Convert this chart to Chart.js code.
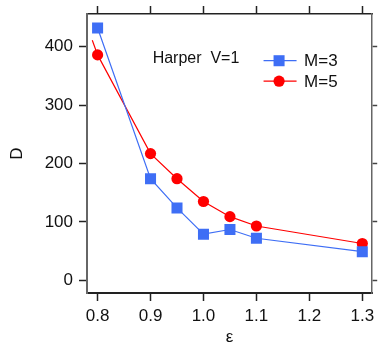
<!DOCTYPE html>
<html>
<head>
<meta charset="utf-8">
<script src="https://cdn.jsdelivr.net/npm/chart.js@4/dist/chart.umd.min.js"></script>
<style>
  html, body { margin: 0; padding: 0; background: #fff; }
  #wrap { width: 380px; height: 346px; }
</style>
</head>
<body>
<div id="wrap"><canvas id="chart" width="380" height="346"></canvas></div>
<script>
// values
const epsValues = [0.8, 0.9, 0.95, 1.0, 1.05, 1.1, 1.3];
const m3Values = [432, 174, 124, 79, 87, 72, 49];
// M=5 line starts a bit above its first marker
const m5Eps = [0.79, 0.8, 0.9, 0.95, 1.0, 1.05, 1.1, 1.3];
const m5Values = [411, 386, 217, 174, 135, 109, 93, 63];
const xTicks = [0.8, 0.9, 1.0, 1.1, 1.2, 1.3];
const yTicks = [0, 100, 200, 300, 400];
const seriesNames = ['M=3', 'M=5'];
const noteText = 'Harper  V=1';

const BLUE = '#3e6ef5';
const RED = '#ff0000';
const FONT = '"Liberation Sans", Arial, sans-serif';

const X_MIN = 0.78, X_MAX = 1.3187;
const Y_MIN = -21.7, Y_MAX = 456;

function toPoints(xs, ys) {
    return xs.map((x, i) => ({ x: x, y: ys[i] }));
}

function setTicks(list) {
    return scale => { scale.ticks = list.map(v => ({ value: v })); };
}

// fixed box sizes, no extra room for overflowing labels
function fixSize(w, h) {
    return s => {
        if (w !== null) s.width = w;
        if (h !== null) s.height = h;
        s.paddingLeft = 0; s.paddingRight = 0;
        s.paddingTop = 0; s.paddingBottom = 0;
    };
}

// text note + legend drawn inside the plot
const overlay = {
    id: 'overlay',
    afterDraw(chart) {
        const ctx = chart.ctx;
        const xs = chart.scales.x, ys = chart.scales.y;
        ctx.save();
        ctx.fillStyle = '#111';
        ctx.font = '16px ' + FONT;
        ctx.textBaseline = 'alphabetic';
        ctx.fillText(noteText, xs.getPixelForValue(0.904), ys.getPixelForValue(372.5));

        const lx = xs.getPixelForValue(1.1135);
        const rows = [
            { label: seriesNames[0], color: BLUE, style: 'rect', r: 7.8, y: ys.getPixelForValue(376) },
            { label: seriesNames[1], color: RED, style: 'circle', r: 5.6, y: ys.getPixelForValue(341) },
        ];
        ctx.font = '17px ' + FONT;
        ctx.textBaseline = 'middle';
        rows.forEach(row => {
            ctx.strokeStyle = row.color;
            ctx.lineWidth = 1.2;
            ctx.beginPath();
            ctx.moveTo(lx, row.y);
            ctx.lineTo(lx + 33, row.y);
            ctx.stroke();
            ctx.fillStyle = row.color;
            Chart.helpers.drawPoint(ctx, { pointStyle: row.style, radius: row.r, rotation: 0, borderWidth: 0 }, lx + 15.5, row.y);
            ctx.fillStyle = '#111';
            ctx.fillText(row.label, lx + 40.5, row.y + 1);
        });
        ctx.restore();
    }
};

new Chart(document.getElementById('chart'), {
    type: 'line',
    data: {
        datasets: [{
            label: seriesNames[0],
            data: toPoints(epsValues, m3Values),
            borderColor: BLUE,
            backgroundColor: BLUE,
            borderWidth: 1.2,
            pointStyle: 'rect',
            pointRadius: 7.8,
            pointBorderWidth: 0,
            pointHoverRadius: 7.8,
        }, {
            label: seriesNames[1],
            data: toPoints(m5Eps, m5Values),
            borderColor: RED,
            backgroundColor: RED,
            borderWidth: 1.2,
            pointStyle: 'circle',
            pointRadius: ctx => ctx.dataIndex === 0 ? 0 : 5.6,
            pointBorderWidth: 0,
            pointHoverRadius: 5.6,
        }],
    },
    options: {
        responsive: false,
        animation: false,
        events: [],
        layout: { padding: 0 },
        plugins: { legend: { display: false }, tooltip: { enabled: false } },
        scales: {
            x: {
                type: 'linear', position: 'bottom', min: X_MIN, max: X_MAX,
                afterBuildTicks: setTicks(xTicks),
                afterFit: fixSize(null, 53),
                ticks: { color: '#111', font: { family: FONT, size: 17 }, padding: 5, maxRotation: 0,
                         callback: v => v.toFixed(1) },
                grid: { drawOnChartArea: false, tickLength: 8, tickWidth: 1.5, tickColor: '#222' },
                border: { color: '#222', width: 2 },
                title: { display: true, text: 'ε', color: '#111',
                         font: { family: FONT, size: 17, lineHeight: 1 }, padding: 0 },
            },
            x2: {
                type: 'linear', position: 'top', min: X_MIN, max: X_MAX,
                afterBuildTicks: setTicks(xTicks),
                afterFit: fixSize(null, 14),
                ticks: { display: false },
                grid: { drawOnChartArea: false, tickLength: 8, tickWidth: 1.5, tickColor: '#222' },
                border: { color: '#222', width: 1.5 },
            },
            y: {
                type: 'linear', position: 'left', min: Y_MIN, max: Y_MAX,
                afterBuildTicks: setTicks(yTicks),
                afterFit: fixSize(87, null),
                ticks: { color: '#111', font: { family: FONT, size: 17 }, padding: 6 },
                grid: { drawOnChartArea: false, tickLength: 8, tickWidth: 1.5, tickColor: '#222' },
                border: { color: '#666', width: 2 },
                title: { display: true, text: 'D', color: '#111',
                         font: { family: FONT, size: 17 }, padding: { top: 7, bottom: 0 } },
            },
            y2: {
                type: 'linear', position: 'right', min: Y_MIN, max: Y_MAX,
                afterBuildTicks: setTicks(yTicks),
                afterFit: fixSize(4.3, null),
                ticks: { display: false },
                grid: { drawOnChartArea: false, tickLength: 5, tickWidth: 1.5, tickColor: '#444' },
                border: { color: '#666', width: 1.5 },
            },
        },
    },
    plugins: [overlay],
});
</script>
</body>
</html>
